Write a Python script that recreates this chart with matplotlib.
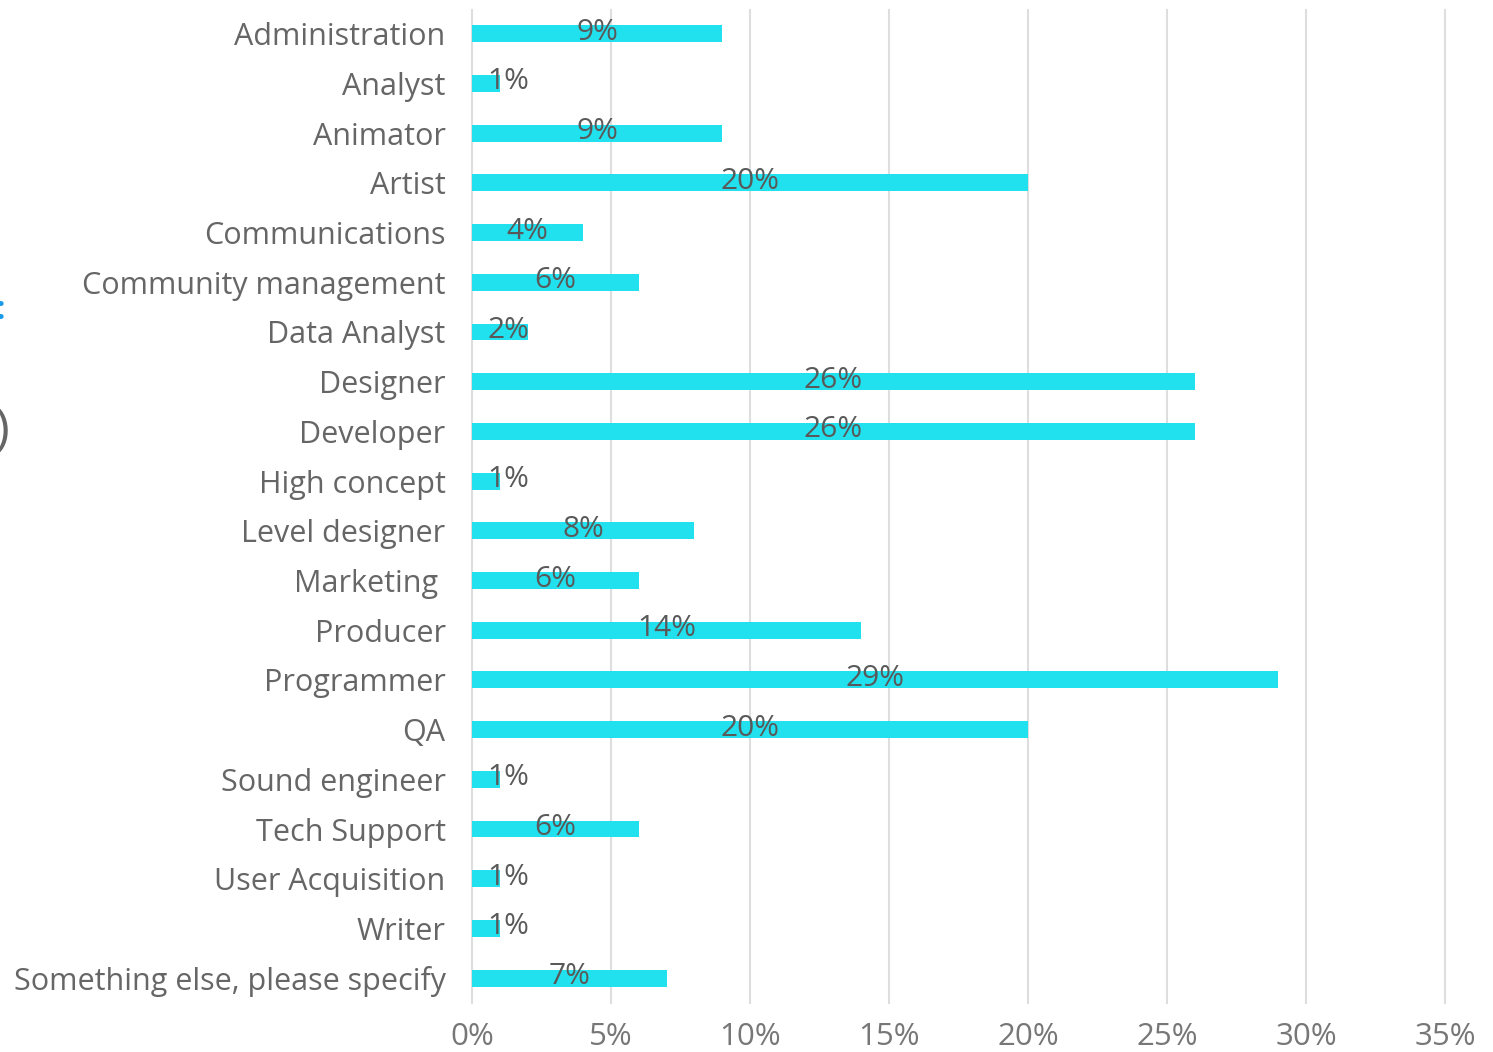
import matplotlib
matplotlib.use("Agg")
import matplotlib.pyplot as plt
from matplotlib.ticker import FuncFormatter

plt.rcParams['font.family'] = ['Open Sans', 'DejaVu Sans']

roles = ["Administration", "Analyst", "Animator", "Artist", "Communications",
         "Community management", "Data Analyst", "Designer", "Developer",
         "High concept", "Level designer", "Marketing ", "Producer", "Programmer",
         "QA", "Sound engineer", "Tech Support", "User Acquisition", "Writer",
         "Something else, please specify"]
shares = [9, 1, 9, 20, 4, 6, 2, 26, 26, 1, 8, 6, 14, 29, 20, 1, 6, 1, 1, 7]
xticks = [0, 5, 10, 15, 20, 25, 30, 35]

fig = plt.figure(figsize=(14.93, 10.52), dpi=100)
ax = fig.add_axes([0.3161, 0.0466, 0.6517, 0.944])

pos = list(range(len(roles)))
ax.barh(pos, shares, height=0.34, color="#22e1ef", zorder=2)

for p, v in zip(pos, shares):
    ax.text(max(v / 2, 1.3), p - 0.03, f"{v}%", ha="center", va="center",
            fontsize=21.5, color="#595959", zorder=3)

ax.set_ylim(19.5, -0.48)
ax.set_xlim(0, 35)
ax.set_yticks(pos)
ax.set_yticklabels(roles, fontsize=22, color="#666666")
ax.set_xticks(xticks)
ax.xaxis.set_major_formatter(FuncFormatter(lambda x, _: f"{x:.0f}%"))
ax.tick_params(axis="x", labelsize=22.5, labelcolor="#777777", length=0, pad=14)
ax.tick_params(axis="y", length=0, pad=19)
ax.grid(axis="x", color="#dedede", linewidth=1.5, zorder=0, clip_on=False)
for s in ax.spines.values():
    s.set_visible(False)

# fragments of the surrounding slide at the left edge
fig.text(0.0, 0.705, ":", color="#1a9be8", fontsize=24, fontweight="bold",
         ha="center", va="center")
fig.text(-0.004, 0.59, ")", color="#666666", fontsize=36, ha="left", va="center")

fig.savefig("out.png", dpi=100)
